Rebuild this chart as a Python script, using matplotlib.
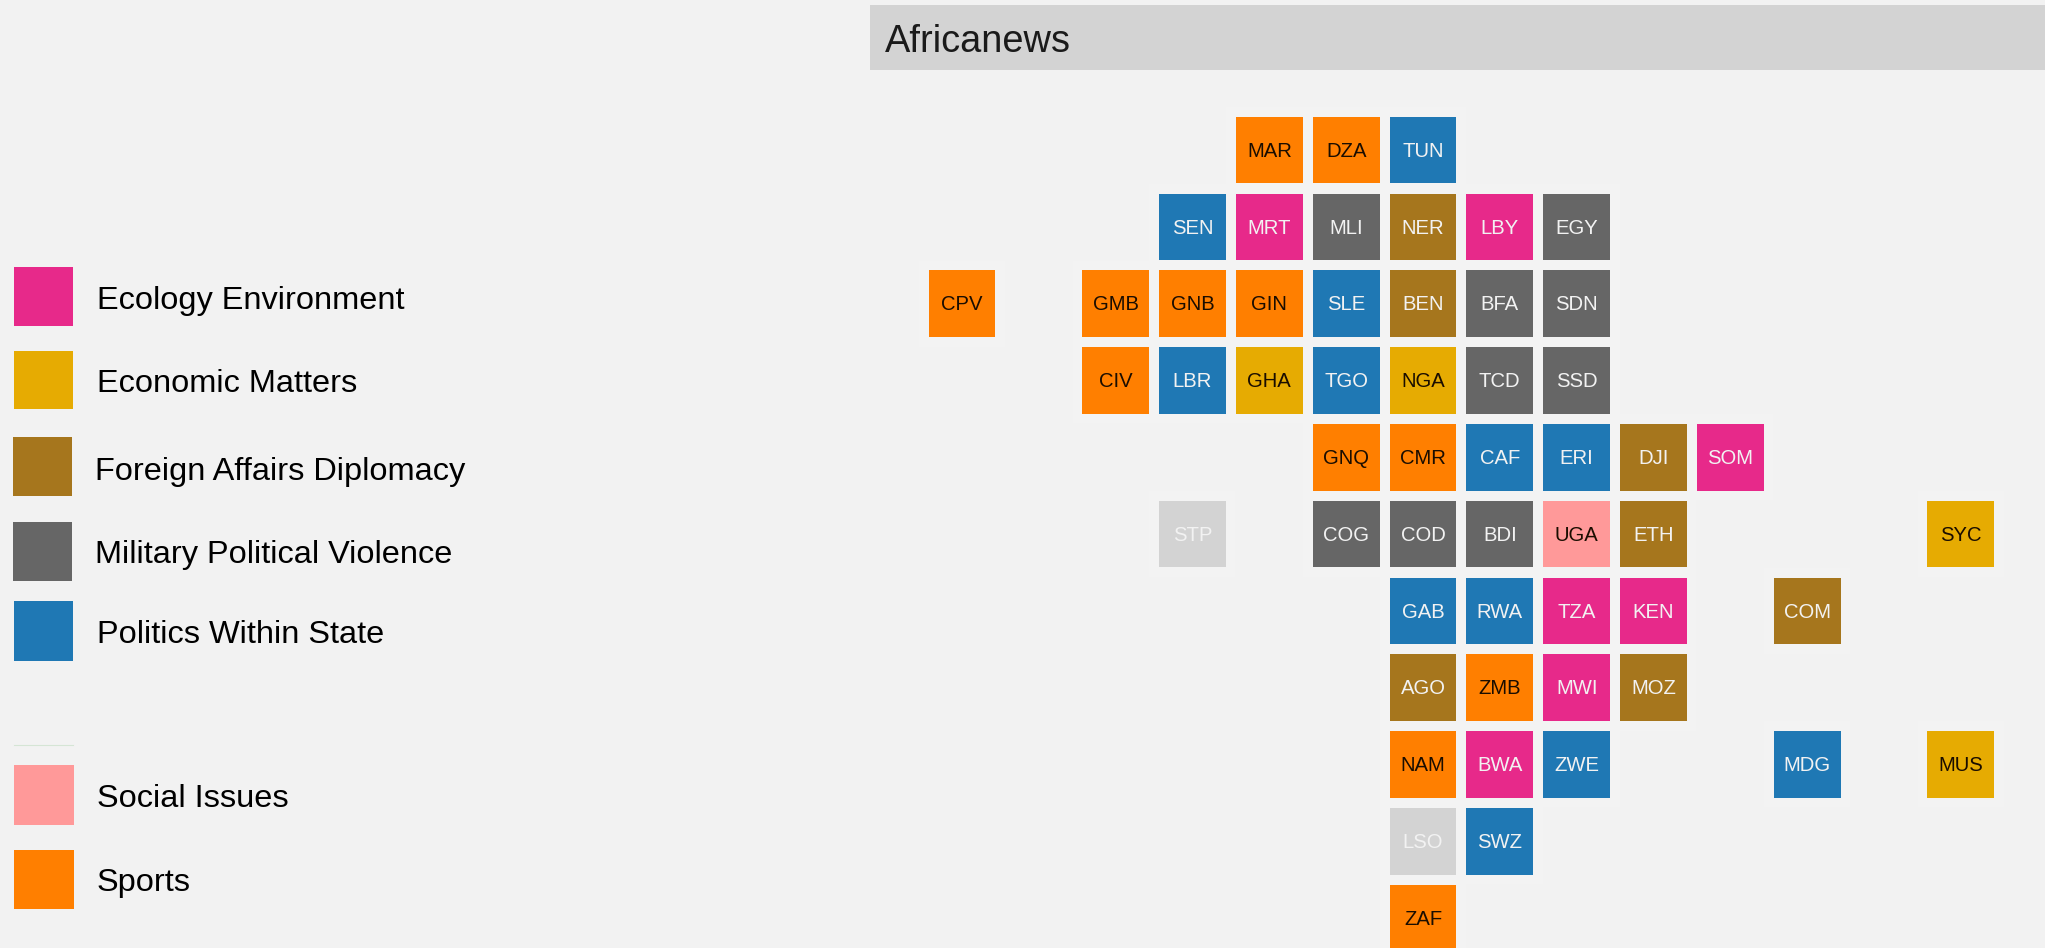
import matplotlib
matplotlib.use("Agg")
import matplotlib.pyplot as plt
from matplotlib.patches import Rectangle

plt.rcParams['font.family'] = ['Liberation Sans', 'DejaVu Sans']

# category of every country tile
countries = ["MAR", "DZA", "TUN",
             "SEN", "MRT", "MLI", "NER", "LBY", "EGY",
             "CPV", "GMB", "GNB", "GIN", "SLE", "BEN", "BFA", "SDN",
             "CIV", "LBR", "GHA", "TGO", "NGA", "TCD", "SSD",
             "GNQ", "CMR", "CAF", "ERI", "DJI", "SOM",
             "STP", "COG", "COD", "BDI", "UGA", "ETH", "SYC",
             "GAB", "RWA", "TZA", "KEN", "COM",
             "AGO", "ZMB", "MWI", "MOZ",
             "NAM", "BWA", "ZWE", "MDG", "MUS",
             "LSO", "SWZ",
             "ZAF"]
cols = [4, 5, 6,
        3, 4, 5, 6, 7, 8,
        0, 2, 3, 4, 5, 6, 7, 8,
        2, 3, 4, 5, 6, 7, 8,
        5, 6, 7, 8, 9, 10,
        3, 5, 6, 7, 8, 9, 13,
        6, 7, 8, 9, 11,
        6, 7, 8, 9,
        6, 7, 8, 11, 13,
        6, 7,
        6]
rows = [0, 0, 0,
        1, 1, 1, 1, 1, 1,
        2, 2, 2, 2, 2, 2, 2, 2,
        3, 3, 3, 3, 3, 3, 3,
        4, 4, 4, 4, 4, 4,
        5, 5, 5, 5, 5, 5, 5,
        6, 6, 6, 6, 6,
        7, 7, 7, 7,
        8, 8, 8, 8, 8,
        9, 9,
        10]
topics = ["Sports", "Sports", "Politics",
          "Politics", "Ecology", "Military", "Foreign", "Ecology", "Military",
          "Sports", "Sports", "Sports", "Sports", "Politics", "Foreign", "Military", "Military",
          "Sports", "Politics", "Economic", "Politics", "Economic", "Military", "Military",
          "Sports", "Sports", "Politics", "Politics", "Foreign", "Ecology",
          "None", "Military", "Military", "Military", "Social", "Foreign", "Economic",
          "Politics", "Politics", "Ecology", "Ecology", "Foreign",
          "Foreign", "Sports", "Ecology", "Foreign",
          "Sports", "Ecology", "Politics", "Politics", "Economic",
          "None", "Politics",
          "Sports"]

topic_colors = {"Ecology": "#E7298A", "Economic": "#E6AB02", "Foreign": "#A6761D",
                "Military": "#666666", "Politics": "#1F78B4", "Social": "#FF9999",
                "Sports": "#FF7F00", "None": "#D3D3D3"}
dark_text = ["Sports", "Economic", "Social"]

legend_labels = ["Ecology Environment", "Economic Matters", "Foreign Affairs Diplomacy",
                 "Military Political Violence", "Politics Within State", "Social Issues", "Sports"]
legend_topics = ["Ecology", "Economic", "Foreign", "Military", "Politics", "Social", "Sports"]

# legend was pasted together unevenly, so each key has its own pixel box
legend_x = [14, 14, 13, 13, 14, 14, 14]
legend_w = [59, 59, 59, 59, 59, 60, 60]
legend_top = [267, 351, 437.3, 522.2, 601.2, 765, 850]
legend_h = [58.8, 58.3, 59.1, 58.7, 59.6, 60, 58.6]
legend_text_x = [97, 97, 95, 95, 97, 97, 97]
legend_text_y = [297.3, 380.4, 468, 551.5, 631.4, 795.3, 879.7]

bg = "#F2F2F2"
fig = plt.figure(figsize=(20.45, 9.48), dpi=100, facecolor=bg)

# pixel layer for strip and legend
px = fig.add_axes([0, 0, 1, 1])
px.set_xlim(0, 2045)
px.set_ylim(948, 0)
px.axis("off")
px.add_patch(Rectangle((870, 5), 1175, 65, facecolor="#D3D3D3", edgecolor="none"))
px.text(885, 38, "Africanews", fontsize=27.4, color="#1A1A1A", va="center_baseline", ha="left")

for i in range(len(legend_labels)):
    px.add_patch(Rectangle((legend_x[i], legend_top[i]), legend_w[i], legend_h[i],
                           facecolor=topic_colors[legend_topics[i]], edgecolor="none"))
    px.text(legend_text_x[i], legend_text_y[i], legend_labels[i], fontsize=23.4,
            color="black", va="center_baseline", ha="left")
px.plot([14, 73], [744.7, 744.7], color="#D5E5D5", lw=0.8)

# tile grid
pitch_x = 76.83
pitch_y = 76.8
ax = fig.add_axes([0, 0, 1, 1])
ax.patch.set_alpha(0)
ax.set_xlim(-962.0 / pitch_x, (2045 - 962.0) / pitch_x)
ax.set_ylim((948 - 150.0) / pitch_y, -150.0 / pitch_y)
ax.axis("off")

tile_colors = [topic_colors[t] for t in topics]
# very faint halo round every tile
ax.bar(cols, 86 / pitch_y, width=86 / pitch_x, color="#F3F3F3", linewidth=0,
       bottom=[r - 86 / pitch_y / 2 for r in rows])
ax.bar(cols, 66.6 / pitch_y, width=66.8 / pitch_x, color=tile_colors, linewidth=0,
       bottom=[r - 66.6 / pitch_y / 2 for r in rows])

for c, r, name, t in zip(cols, rows, countries, topics):
    ax.text(c, r - 0.008, name, fontsize=14.6, ha="center", va="center_baseline",
            color="#1A0D00" if t in dark_text else "#F2F2F2")

fig.savefig("out.png", dpi=100, facecolor=bg)
